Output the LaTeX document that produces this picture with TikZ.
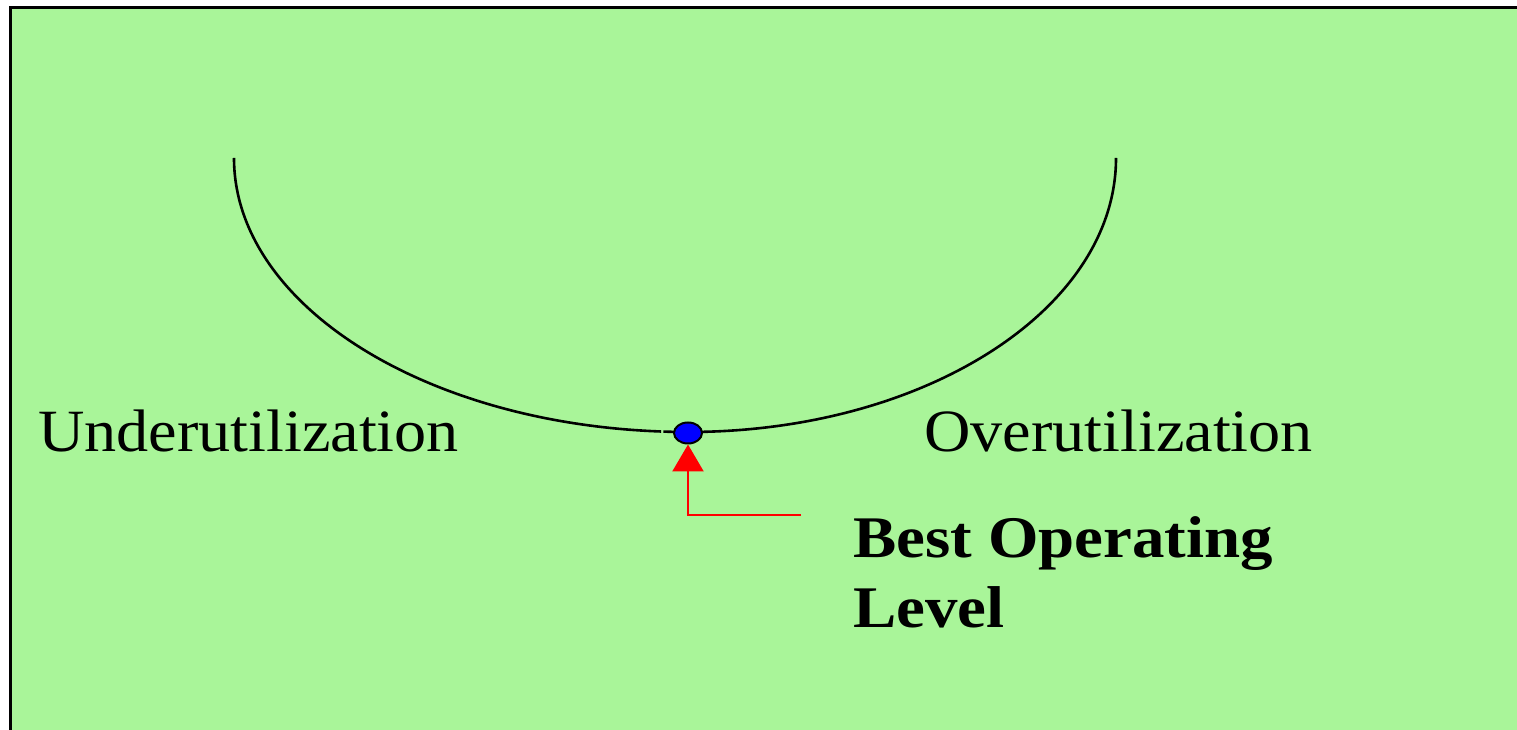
\documentclass[tikz,border=0pt]{standalone}
\usepackage{fontspec}
\setmainfont{Liberation Serif}
\newfontfamily\regfam[FakeStretch=1.07]{Liberation Serif}
\newfontfamily\boldfam[FakeStretch=1.1]{Liberation Serif}
\usetikzlibrary{arrows.meta,shapes.geometric}
\definecolor{bggreen}{RGB}{169,245,153}
\definecolor{dotblue}{RGB}{0,0,255}
\tikzset{
  curveline/.style={line width=2.6pt, black},
  lbl/.style={inner sep=0pt, anchor=base west, font=\regfam\fontsize{60}{70}\selectfont},
  boldlbl/.style={inner sep=0pt, anchor=base west, align=left, font=\boldfam\fontsize{59}{70}\selectfont\bfseries},
  pointer/.style={red, line width=2.4pt, -{Triangle[width=31pt,length=27pt]}},
}
\begin{document}
\begin{tikzpicture}[x=1pt,y=1pt]
\useasboundingbox (0,0) rectangle (1517,730);
\clip (0,0) rectangle (1517,730);
\fill[white] (0,0) rectangle (1517,730);
\draw[fill=bggreen, line width=3pt] (10.5,-20) rectangle (1540,722);
% curve
\draw[curveline] (234,572) arc[start angle=180, end angle=266.6, x radius=454, y radius=274];
\draw[curveline] (688,572) ++(266.9:454 and 274) arc[start angle=266.9, end angle=270, x radius=454, y radius=274];
\draw[curveline] (688,298) arc[start angle=270, end angle=360, x radius=428, y radius=274];
% dot
\node[ellipse, draw=black, line width=2pt, fill=dotblue, minimum width=28pt, minimum height=21pt, inner sep=0pt] (dot) at (688,297) {};
% pointer
\coordinate (pstart) at (801,215);
\draw[pointer] (pstart) -| (dot.south);
% labels
\node[lbl] (under) at (38,278) {Underutilization};
\node[lbl] (over) at (924,278) {Overutilization};
\node[boldlbl] (best) at (853,102) {Best Operating\\Level};
\end{tikzpicture}
\end{document}
